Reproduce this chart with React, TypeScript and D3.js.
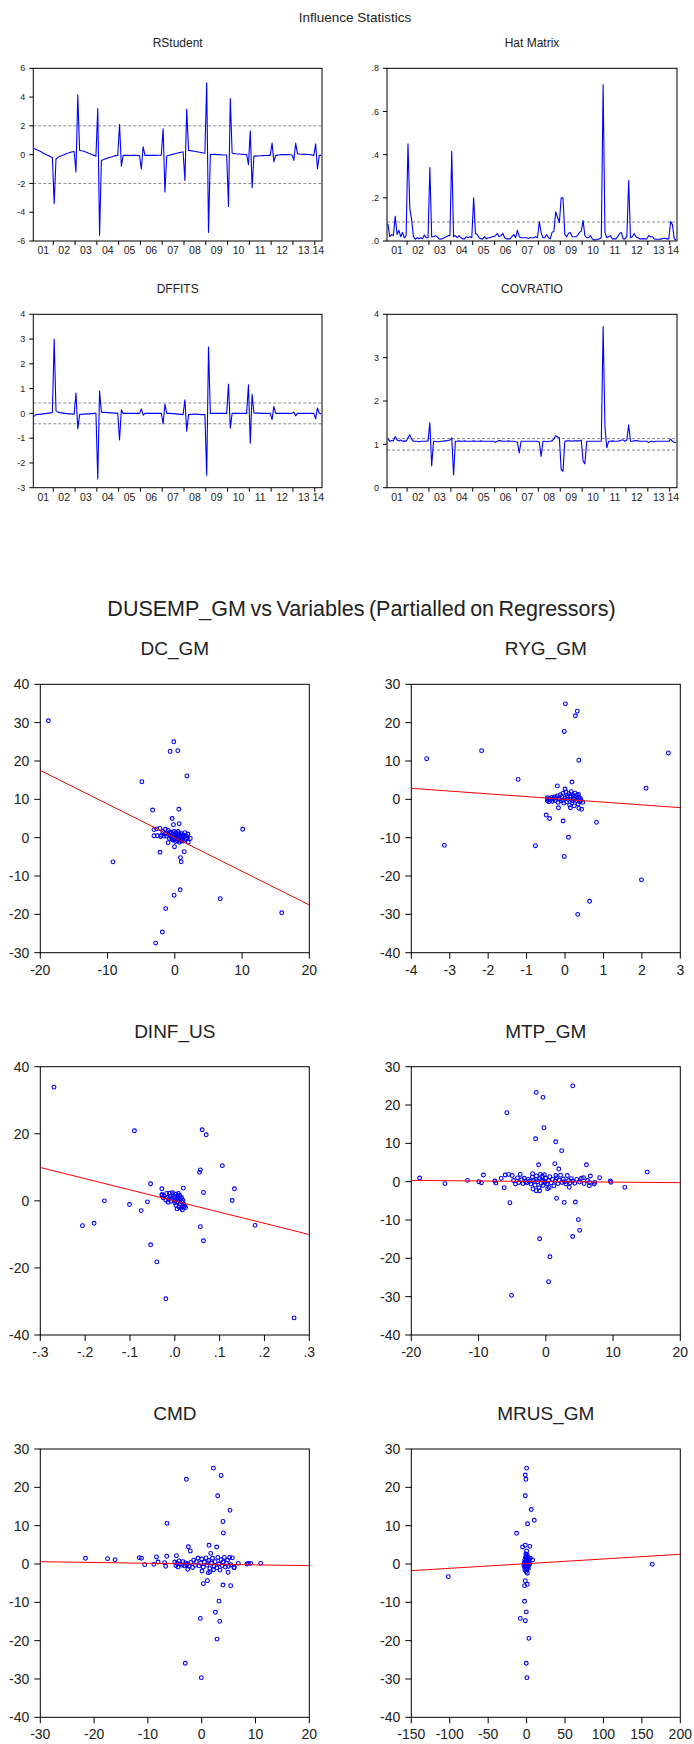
import React from "react";
import * as d3 from "d3";

const FONT = "'Liberation Sans', Arial, Helvetica, sans-serif";
const TXT = "#222";

// ---------- Influence statistics: monthly obs 2001M02 .. 2014M04 ----------
const startMonth = 2; // February 2001
const yearLabels = ["01", "02", "03", "04", "05", "06", "07", "08", "09", "10", "11", "12", "13", "14"];

const rstudent = [
  0.45, 0.35, 0.3, 0.25, 0.18, 0.1, 0.05, -0.02, -0.08, -0.14, -0.2,
  -3.4, -0.3, -0.2, -0.12, -0.08, -0.02, 0.03, 0.08, 0.12, 0.16, 0.2, 0.22,
  -1.2, 4.15, 0.3, 0.27, 0.25, 0.2, 0.15, 0.1, 0.05, 0.0, -0.05, -0.1,
  3.2, -5.6, -0.4, -0.35, -0.3, -0.26, -0.22, -0.18, -0.14, -0.1, -0.07, -0.05,
  2.1, -0.8, -0.05, -0.05, -0.05, -0.05, -0.06, -0.05, -0.05, -0.05, -0.06, -0.06,
  -1.0, 0.55, -0.05, -0.05, -0.05, -0.05, -0.05, -0.05, -0.05, -0.04, -0.04, -0.03,
  1.8, -2.6, -0.1, -0.06, -0.02, 0.02, 0.05, 0.08, 0.11, 0.14, 0.17, 0.2,
  -1.8, 3.15, 0.3, 0.28, 0.26, 0.24, 0.22, 0.19, 0.17, 0.15, 0.12, 0.1,
  5.0, -5.4, 0.0, 0.02, 0.03, 0.02, 0.0, 0.0, -0.01, -0.02, -0.02, -0.02,
  -3.6, 3.9, 0.1, 0.08, 0.06, 0.05, 0.04, 0.03, 0.02, 0.01, 0.0, -0.7,
  1.65, -2.3, -0.1, -0.1, -0.09, -0.08, -0.08, -0.07, -0.06, -0.06, -0.05, -0.05,
  0.8, -0.5, -0.05, -0.03, -0.02, 0.0, 0.0, 0.0, 0.0, 0.0, -0.01, -0.02,
  -0.4, 0.8, 0.05, 0.04, 0.03, 0.02, 0.02, 0.02, 0.01, 0.0, -0.02, -0.05,
  0.75, -1.0, -0.05, -0.05,
];

const hatMatrix = [
  0.08, 0.02, 0.03, 0.025, 0.115, 0.03, 0.05, 0.02, 0.04, 0.015, 0.025,
  0.45, 0.15, 0.1, 0.02, 0.008, 0.015, 0.01, 0.015, 0.01, 0.028, 0.015, 0.015,
  0.34, 0.02, 0.02, 0.025, 0.02, 0.01, 0.008, 0.012, 0.015, 0.02, 0.025, 0.025,
  0.415, 0.02, 0.025, 0.015, 0.025, 0.015, 0.01, 0.01, 0.02, 0.015, 0.02, 0.015,
  0.2, 0.035, 0.03, 0.015, 0.01, 0.01, 0.02, 0.01, 0.015, 0.015, 0.02, 0.02,
  0.025, 0.035, 0.02, 0.025, 0.035, 0.015, 0.01, 0.01, 0.01, 0.02, 0.03, 0.015,
  0.05, 0.02, 0.015, 0.015, 0.015, 0.015, 0.012, 0.015, 0.015, 0.015, 0.02, 0.015,
  0.09, 0.04, 0.015, 0.015, 0.03, 0.015, 0.01, 0.04, 0.045, 0.135, 0.11, 0.085,
  0.2, 0.2, 0.03, 0.02, 0.035, 0.04, 0.02, 0.02, 0.02, 0.025, 0.04, 0.045,
  0.095, 0.025, 0.015, 0.015, 0.025, 0.01, 0.005, 0.005, 0.008, 0.01, 0.015, 0.725,
  0.04, 0.015, 0.02, 0.025, 0.01, 0.01, 0.01, 0.02, 0.035, 0.04, 0.01, 0.01,
  0.02, 0.28, 0.015, 0.02, 0.035, 0.02, 0.015, 0.01, 0.01, 0.01, 0.01, 0.01,
  0.025, 0.02, 0.02, 0.01, 0.008, 0.008, 0.008, 0.01, 0.012, 0.012, 0.01, 0.01,
  0.09, 0.075, 0.01, 0.005,
];

const dffits = [
  -0.12, -0.05, -0.04, -0.04, -0.03, -0.02, -0.01, 0.0, 0.01, 0.02, 0.03,
  3.0, 0.1, 0.05, 0.03, 0.02, 0.01, 0.0, -0.01, -0.02, -0.02, -0.03, -0.03,
  0.82, -0.62, -0.05, -0.04, -0.03, -0.03, -0.02, -0.02, -0.01, -0.01, 0.0, 0.0,
  -2.65, 0.9, 0.05, 0.04, 0.04, 0.03, 0.03, 0.02, 0.02, 0.01, 0.01, 0.0,
  -1.07, 0.15, 0.0, 0.0, 0.0, 0.0, 0.0, 0.0, 0.0, 0.0, 0.0, 0.0,
  0.18, -0.07, 0.0, 0.0, 0.0, 0.0, 0.0, 0.0, 0.0, 0.0, 0.0, 0.0,
  -0.42, 0.37, 0.0, 0.0, 0.0, -0.01, -0.01, -0.02, -0.03, -0.03, -0.04, -0.05,
  0.55, -0.72, -0.05, -0.04, -0.04, -0.03, -0.03, -0.04, -0.04, -0.05, -0.05, -0.05,
  -2.5, 2.68, 0.0, 0.0, 0.0, 0.0, 0.0, 0.0, 0.0, 0.0, 0.0, 0.0,
  1.18, -0.6, 0.0, 0.0, 0.0, 0.0, 0.0, 0.0, 0.0, 0.0, 0.0, 1.15,
  -1.2, 0.77, 0.02, 0.01, 0.01, 0.01, 0.0, 0.0, 0.0, 0.0, 0.0, 0.0,
  -0.25, 0.28, 0.0, 0.0, 0.0, 0.0, 0.0, 0.0, 0.0, 0.0, 0.0, 0.0,
  0.05, -0.1, 0.0, 0.0, 0.0, 0.0, 0.0, 0.0, 0.0, 0.0, 0.0, 0.0,
  -0.22, 0.22, 0.0, -0.02,
];

const covratio = [
  1.13, 1.07, 1.09, 1.08, 1.18, 1.1, 1.08, 1.1, 1.07, 1.08, 1.07,
  1.15, 1.22, 1.12, 1.07, 1.07, 1.07, 1.06, 1.07, 1.07, 1.07, 1.07, 1.08,
  1.5, 0.5, 1.07, 1.07, 1.06, 1.06, 1.07, 1.07, 1.08, 1.08, 1.09, 1.1,
  1.15, 0.3, 1.07, 1.07, 1.08, 1.07, 1.07, 1.08, 1.07, 1.07, 1.07, 1.07,
  1.08, 1.07, 1.07, 1.07, 1.08, 1.07, 1.07, 1.07, 1.07, 1.07, 1.07, 1.07,
  1.05, 1.07, 1.09, 1.08, 1.07, 1.07, 1.07, 1.08, 1.07, 1.07, 1.07, 1.06,
  1.05, 0.8, 1.07, 1.07, 1.07, 1.07, 1.07, 1.07, 1.07, 1.07, 1.07, 1.07,
  1.05, 0.72, 1.07, 1.07, 1.06, 1.07, 1.07, 1.08, 1.12, 1.2, 1.17, 1.15,
  0.42, 0.38, 1.07, 1.08, 1.08, 1.08, 1.07, 1.08, 1.08, 1.08, 1.08, 1.1,
  0.62, 0.55, 1.07, 1.07, 1.07, 1.07, 1.07, 1.07, 1.07, 1.07, 1.07, 3.72,
  1.4, 0.92, 1.07, 1.07, 1.08, 1.07, 1.07, 1.07, 1.08, 1.1, 1.1, 1.07,
  1.1, 1.45, 1.07, 1.07, 1.08, 1.09, 1.08, 1.07, 1.07, 1.07, 1.07, 1.07,
  1.04, 1.07, 1.07, 1.06, 1.07, 1.07, 1.07, 1.07, 1.07, 1.07, 1.07, 1.07,
  1.12, 1.07, 1.05, 1.04,
];

const rstudentTicks = [-6, -4, -2, 0, 2, 4, 6];
const rstudentTickLabels = ["-6", "-4", "-2", "0", "2", "4", "6"];
const hatTicks = [0, 0.2, 0.4, 0.6, 0.8];
const hatTickLabels = [".0", ".2", ".4", ".6", ".8"];
const dffitsTicks = [-3, -2, -1, 0, 1, 2, 3, 4];
const dffitsTickLabels = ["-3", "-2", "-1", "0", "1", "2", "3", "4"];
const covTicks = [0, 1, 2, 3, 4];
const covTickLabels = ["0", "1", "2", "3", "4"];
const rstudentRefs = [2, -2];
const hatRefs = [0.088];
const dffitsRefs = [0.42, -0.42];
const covRefs = [1.132, 0.868];

// ---------- Partial regression scatter data [x, y] ----------
const dcGmPoints: [number, number][] = [
  [-18.8, 30.5], [-0.15, 25.0], [-0.7, 22.5], [0.45, 22.7], [1.8, 16.1], [-4.9, 14.6], [-3.3, 7.2], [0.6, 7.4],
  [-0.4, 5.0], [-0.2, 3.4], [0.65, 3.65], [10.1, 2.2], [-9.2, -6.3], [-2.2, -3.8], [-0.05, -2.35], [1.4, -3.65],
  [0.85, -5.2], [0.95, -6.3], [0.8, -13.6], [-0.1, -15.0], [6.75, -15.9], [15.9, -19.6], [-1.35, -18.5],
  [-1.85, -24.6], [-2.85, -27.5], [-1.0, -1.3], [2.0, -1.2], [2.3, -0.2], [1.95, 0.95],
  [-3.1, 2.1], [-3.1, 0.5], [-2.7, 2.3], [-2.6, 0.5], [-2.2, 2.4], [-2.1, 0.3], [-2.0, 0.6], [-1.8, 1.6],
  [-1.6, 0.4], [-1.4, 2.2], [-1.3, 1.2], [-1.2, 0.4], [-1.0, 1.9], [-0.9, 0.8], [-0.8, -0.2], [-0.7, 1.5],
  [-0.6, 0.5], [-0.5, 1.2], [-0.4, -0.3], [-0.3, 0.9], [-0.2, 0.2], [-0.1, 1.6], [0.0, -0.5], [0.0, 0.7],
  [0.1, -1.0], [0.2, 0.3], [0.2, 1.3], [0.3, -0.3], [0.4, 0.9], [0.4, -0.8], [0.5, 0.1], [0.5, 1.6],
  [0.6, -0.4], [0.7, 0.6], [0.7, -1.2], [0.8, 0.2], [0.9, 1.1], [0.9, -0.6], [1.0, 0.4], [1.1, -0.2],
  [1.2, 0.8], [1.3, -0.9], [1.4, 0.3], [1.5, 1.3], [1.6, -0.4], [1.7, 0.5], [1.9, -0.1], [0.1, 0.0],
  [-0.3, -0.6], [0.6, 1.0], [-1.5, 1.0], [1.0, -0.9], [0.3, 0.5], [-0.5, 0.0],
];

const rygGmPoints: [number, number][] = [
  [-3.6, 10.6], [-3.14, -12.0], [-2.17, 12.7], [-1.22, 5.2], [-0.77, -12.1], [0.01, 24.9], [0.32, 23.0],
  [0.27, 21.8], [-0.02, 17.7], [0.36, 10.2], [0.18, 4.5], [-0.2, 3.5], [0.0, 2.7], [2.69, 12.1], [2.11, 2.9],
  [0.82, -6.0], [-0.05, -5.65], [-0.49, -4.1], [-0.4, -5.0], [0.09, -9.9], [-0.02, -14.9], [1.99, -21.0],
  [0.64, -26.6], [0.33, -30.0], [-0.17, -2.2], [0.43, -2.6], [0.36, -2.35], [0.14, -2.2], [0.46, -0.8],
  [-0.46, 0.4], [-0.46, -0.4], [-0.44, 0.0], [-0.42, -0.6], [-0.4, 0.2], [-0.38, -0.2], [-0.35, 0.5],
  [-0.33, -0.5], [-0.3, 0.1], [-0.28, 0.6], [-0.25, -0.3], [-0.22, 0.4], [-0.2, 0.9], [-0.18, -0.8],
  [-0.15, 0.2], [-0.12, 1.2], [-0.1, -0.4], [-0.08, 0.7], [-0.05, 1.6], [-0.03, -1.0], [0.0, 0.3],
  [0.02, 1.9], [0.04, -0.6], [0.06, 1.0], [0.08, 0.0], [0.1, 1.5], [0.12, -1.5], [0.14, 0.6], [0.16, 2.0],
  [0.18, -0.9], [0.2, 1.2], [0.22, 0.2], [0.24, -1.7], [0.26, 1.6], [0.28, 0.8], [0.3, -0.3], [0.32, 1.1],
  [0.34, -1.2], [0.36, 0.5], [0.38, -0.6], [0.4, 0.2], [0.42, -0.3], [0.2, -0.4], [0.05, 0.5], [-0.05, -0.2],
  [0.15, 0.9], [0.25, 0.0], [0.35, 1.3], [-0.15, 0.0],
];

const dinfUsPoints: [number, number][] = [
  [-0.2695, 33.9], [-0.09, 20.9], [0.061, 21.2], [0.07, 19.7], [0.106, 10.5], [0.057, 9.25], [0.055, 8.5],
  [-0.054, 5.1], [-0.029, 3.6], [0.019, 3.8], [0.064, 2.5], [0.133, 3.6], [0.128, 0.1], [-0.157, 0.0],
  [-0.101, -1.1], [-0.061, -0.3], [-0.075, -2.9], [-0.206, -7.4], [-0.18, -6.7], [0.057, -7.7], [0.179, -7.3],
  [0.064, -11.9], [-0.054, -13.1], [-0.04, -18.2], [-0.02, -29.2], [0.266, -34.9], [-0.029, 1.8],
  [-0.028, 1.8], [-0.026, 0.9], [-0.024, 1.5], [-0.02, 0.2], [-0.018, 2.2], [-0.016, 1.0], [-0.014, 0.4],
  [-0.012, 2.3], [-0.01, 1.3], [-0.008, -0.1], [-0.006, 0.8], [-0.004, 1.8], [-0.002, 0.3], [0.0, -0.6],
  [0.0, 1.1], [0.002, 2.0], [0.003, -1.4], [0.004, 0.5], [0.005, -2.4], [0.006, 1.5], [0.007, -0.3],
  [0.008, 0.9], [0.009, -1.8], [0.01, 0.2], [0.011, 1.6], [0.012, -0.8], [0.013, 0.6], [0.014, -2.2],
  [0.015, 1.0], [0.016, -0.4], [0.017, -2.7], [0.018, 0.1], [0.019, -1.8], [0.02, -1.0], [0.022, -1.6],
  [0.024, -2.0], [-0.015, -0.4], [-0.005, 2.4], [0.001, 0.0], [0.008, 2.2],
];

const mtpGmPoints: [number, number][] = [
  [-18.76, 0.96], [-15.0, -0.5], [-11.65, 0.35], [-9.96, 0.0], [-9.57, -0.26], [-9.27, 1.74], [-7.58, 0.17],
  [-7.43, -0.35], [-6.63, 0.87], [-6.19, -1.57], [-6.04, 1.74], [-5.54, 1.9], [-5.79, 18.0], [-5.34, -5.48],
  [-5.09, -29.65], [-1.42, 23.3], [-0.42, 22.0], [-0.27, 14.1], [-1.52, 11.2], [1.47, 10.4], [2.36, 8.1],
  [-1.07, 4.4], [1.34, 4.7], [1.93, 3.3], [4.0, 25.0], [6.04, 4.4], [15.08, 2.5], [11.75, -1.48], [9.67, -0.17],
  [9.6, 0.17], [8.0, 1.04], [7.28, -0.17], [7.2, -0.6], [6.63, 1.48], [6.48, -1.04], [5.6, 1.04], [1.6, -4.35],
  [2.73, -5.4], [4.4, -5.3], [4.84, -9.9], [5.04, -12.7], [4.0, -14.3], [-0.92, -14.9], [0.62, -19.6],
  [0.42, -26.1], [-1.91, -1.9], [-1.42, -2.35], [-0.92, -2.35], [0.27, -1.83], [3.5, -1.48], [-1.96, 2.1],
  [-4.8, 0.3], [-4.5, -0.6], [-4.2, 1.0], [-4.0, -0.2], [-3.8, 1.9], [-3.6, 0.5], [-3.4, -0.5], [-3.2, 0.9],
  [-3.0, 0.0], [-2.8, -0.3], [-2.6, 0.6], [-2.4, 0.1], [-2.2, -0.6], [-2.0, 1.2], [-1.8, 0.3], [-1.6, -0.9],
  [-1.4, 1.5], [-1.2, 0.0], [-1.0, -1.6], [-0.9, 0.8], [-0.8, 1.9], [-0.7, -0.4], [-0.6, 0.4], [-0.5, 1.4],
  [-0.4, -1.0], [-0.3, 0.2], [-0.2, 1.8], [-0.1, -0.2], [0.0, 0.9], [0.2, -0.6], [0.4, 0.3], [0.6, 1.3],
  [0.8, -0.3], [1.0, 0.6], [1.2, -1.1], [1.4, 0.1], [1.6, 1.0], [1.8, -0.5], [2.0, 0.4], [2.2, 1.7],
  [2.4, -0.2], [2.6, 0.7], [2.8, 0.0], [3.0, -0.6], [3.2, 1.6], [3.4, 0.3], [3.6, -0.3], [3.8, 0.8],
  [4.0, 0.1], [4.3, -0.4], [4.6, 0.6], [5.0, -0.1], [5.3, 0.9], [5.7, -0.5], [6.2, 0.3], [6.5, -0.2],
  [-5.0, 1.6], [-1.5, 0.6], [0.5, -1.5], [1.5, 1.6],
];

const cmdPoints: [number, number][] = [
  [-21.6, 1.48], [-17.5, 1.39], [-16.1, 1.13], [-11.6, 1.65], [-11.2, 1.48], [-10.6, -0.17], [-8.9, -0.09],
  [-8.4, 1.83], [-8.1, 0.52], [-6.9, 0.35], [-6.7, -0.6], [-6.5, 2.0], [-6.45, 10.6], [-4.7, 2.17],
  [-2.85, 22.1], [-3.05, -25.9], [-0.07, -29.65], [-0.26, -14.2], [0.3, -5.13], [1.05, -4.35], [2.17, 25.0],
  [3.6, 23.1], [2.97, 17.8], [5.26, 14.0], [3.96, 11.1], [4.02, 8.1], [1.35, 4.87], [2.78, 4.43], [-2.49, 4.5],
  [-2.12, 3.4], [1.67, 2.78], [0.05, -1.83], [3.96, -5.5], [5.39, -5.65], [3.22, -9.7], [2.54, -12.6],
  [3.35, -14.96], [2.85, -19.6], [6.8, 0.17], [8.4, 0.0], [8.7, 0.17], [9.1, 0.17], [10.96, 0.17],
  [6.06, -0.87], [4.9, -2.17], [1.24, -2.26], [1.55, -2.0], [-2.6, -1.39],
  [-5.0, 0.5], [-4.8, -0.4], [-4.6, 0.2], [-4.4, -0.8], [-4.2, 0.8], [-4.0, 0.0], [-3.7, -0.3], [-3.5, 0.6],
  [-3.2, -0.5], [-3.0, 0.3], [-2.8, -0.2], [-2.6, 0.1], [-2.3, -0.6], [-2.0, 0.4], [-1.7, -0.9], [-1.5, 1.0],
  [-1.2, -0.3], [-1.0, 0.6], [-0.7, 1.5], [-0.5, -0.5], [-0.2, 0.2], [0.0, 1.3], [0.3, -0.8], [0.5, 0.5],
  [0.8, 1.6], [1.0, -0.3], [1.3, 0.9], [1.5, -1.2], [1.8, 0.2], [2.0, 1.5], [2.3, -0.6], [2.5, 0.6],
  [2.8, -1.0], [3.0, 1.7], [3.2, 0.0], [3.4, -1.6], [3.6, 1.1], [3.8, -0.4], [4.0, 0.5], [4.2, 1.7],
  [4.4, -0.8], [4.6, 0.2], [4.8, 1.0], [5.0, -0.6], [5.2, 1.7], [5.4, -0.2], [5.7, 1.6], [6.0, -1.0],
  [2.2, -1.5], [1.2, 0.3],
];

const mrusGmPoints: [number, number][] = [
  [-101.9, -3.3], [163.5, -0.09], [0.0, 25.0], [-1.7, 23.2], [-0.9, 22.1], [-1.7, 17.8], [6.1, 14.2],
  [10.0, 11.4], [1.3, 10.5], [-13.0, 8.0], [-5.2, 4.43], [-1.7, 4.9], [4.3, 4.6], [0.0, 3.4], [7.8, 1.04],
  [4.8, 1.48], [-1.7, -4.35], [-2.6, -5.65], [0.87, -5.3], [-2.6, -9.74], [-0.43, -12.5], [-8.2, -14.2],
  [-1.7, -14.8], [3.0, -19.4], [-0.43, -25.9], [0.43, -29.65],
  [-3.0, 0.2], [-2.8, -0.8], [-2.5, 1.0], [-2.2, -1.6], [-2.0, 0.5], [-1.8, -0.3], [-1.5, 1.6], [-1.2, -1.0],
  [-1.0, 0.0], [-0.8, 2.0], [-0.6, -2.0], [-0.4, 0.8], [-0.2, -0.6], [0.0, 1.3], [0.2, -1.4], [0.4, 0.4],
  [0.6, 2.4], [0.8, -0.2], [1.0, -2.4], [1.2, 1.0], [1.5, -0.8], [1.8, 0.3], [2.0, 1.8], [2.3, -1.2],
  [2.6, 0.6], [3.0, -0.4], [3.5, 1.2], [4.0, 0.0], [-3.5, -0.4], [0.0, -1.0], [1.0, 0.6], [-1.0, 2.6],
];

// fitted partial-regression lines: [slope, intercept]
const dcGmFit = [-0.877, 0.0];
const rygGmFit = [-0.72, -0.01];
const dinfUsFit = [-33.3, -0.05];
const mtpGmFit = [-0.015, 0.04];
const cmdFit = [-0.0206, -0.02];
const mrusGmFit = [0.01217, 0.09];

const yTicks30 = [-40, -30, -20, -10, 0, 10, 20, 30];
const yTicks40 = [-30, -20, -10, 0, 10, 20, 30, 40];
const yTicksDinf = [-40, -20, 0, 20, 40];
const xTicksDc = [-20, -10, 0, 10, 20];
const xTicksRyg = [-4, -3, -2, -1, 0, 1, 2, 3];
const xTicksDinf = [-0.3, -0.2, -0.1, 0, 0.1, 0.2, 0.3];
const xTicksDinfLabels = ["-.3", "-.2", "-.1", ".0", ".1", ".2", ".3"];
const xTicksMtp = [-20, -10, 0, 10, 20];
const xTicksCmd = [-30, -20, -10, 0, 10, 20];
const xTicksMrus = [-150, -100, -50, 0, 50, 100, 150, 200];

type LineProps = {
  left: number; right: number; top: number; bottom: number; title: string;
  data: number[]; yDomain: [number, number]; yTicks: number[]; yTickLabels: string[]; refs: number[];
};

function LinePanel(p: LineProps) {
  const n = p.data.length;
  const x = d3.scaleLinear().domain([0, n]).range([p.left, p.right]);
  const y = d3.scaleLinear().domain(p.yDomain).range([p.bottom, p.top]);
  const line = d3.line<number>().x((_, i) => x(i + 0.5)).y((d) => y(d));
  const jans: number[] = [];
  for (let t = 0; t < n; t++) if ((startMonth - 1 + t) % 12 === 0) jans.push(t);
  const bounds = [0, ...jans, n];
  const cx = (p.left + p.right) / 2;
  return (
    <g fontFamily={FONT} fill={TXT}>
      <text x={cx} y={p.top - 21.5} textAnchor="middle" fontSize={12}>{p.title}</text>
      {p.refs.map((r, i) => (
        <line key={"r" + i} x1={p.left} x2={p.right} y1={y(r)} y2={y(r)} stroke="#8a8a8a" strokeWidth={1} strokeDasharray="3,2" />
      ))}
      <path d={line(p.data) || ""} fill="none" stroke="#0000ff" strokeWidth={1.1} strokeLinejoin="round" />
      <rect x={p.left} y={p.top} width={p.right - p.left} height={p.bottom - p.top} fill="none" stroke="#000" strokeWidth={1} />
      {p.yTicks.map((v, i) => (
        <g key={"y" + i}>
          <line x1={p.left - 4} x2={p.left} y1={y(v)} y2={y(v)} stroke="#000" />
          <text x={p.left - 8} y={y(v)} dy="0.35em" textAnchor="end" fontSize={9}>{p.yTickLabels[i]}</text>
        </g>
      ))}
      {jans.map((t) => (
        <line key={"t" + t} x1={x(t)} x2={x(t)} y1={p.bottom} y2={p.bottom + 4} stroke="#000" />
      ))}
      {yearLabels.map((lab, i) => (
        <text key={"l" + i} x={x((bounds[i] + bounds[i + 1]) / 2)} y={p.bottom + 13.3} textAnchor="middle" fontSize={10.5}>{lab}</text>
      ))}
    </g>
  );
}

type ScatterProps = {
  left: number; right: number; top: number; bottom: number; title: string;
  points: [number, number][]; xDomain: [number, number]; yDomain: [number, number];
  xTicks: number[]; xLabels?: string[]; yTicks: number[]; fit: number[];
};

function ScatterPanel(p: ScatterProps) {
  const x = d3.scaleLinear().domain(p.xDomain).range([p.left, p.right]);
  const y = d3.scaleLinear().domain(p.yDomain).range([p.bottom, p.top]);
  const [b, a] = p.fit;
  const x0 = p.xDomain[0], x1 = p.xDomain[1];
  return (
    <g fontFamily={FONT} fill={TXT}>
      <text x={(p.left + p.right) / 2} y={p.top - 29} textAnchor="middle" fontSize={19}>{p.title}</text>
      <rect x={p.left} y={p.top} width={p.right - p.left} height={p.bottom - p.top} fill="#fff" stroke="#000" strokeWidth={1} />
      {p.points.map((d, i) => (
        <circle key={i} cx={x(d[0])} cy={y(d[1])} r={1.9} fill="none" stroke="#0000ff" strokeWidth={1.1} />
      ))}
      <line x1={x(x0)} y1={y(a + b * x0)} x2={x(x1)} y2={y(a + b * x1)} stroke="#ff0000" strokeWidth={1} />
      {p.yTicks.map((v, i) => (
        <g key={"y" + i}>
          <line x1={p.left - 6} x2={p.left} y1={y(v)} y2={y(v)} stroke="#000" />
          <text x={p.left - 11} y={y(v)} dy="0.35em" textAnchor="end" fontSize={14}>{String(v)}</text>
        </g>
      ))}
      {p.xTicks.map((v, i) => (
        <g key={"x" + i}>
          <line x1={x(v)} x2={x(v)} y1={p.bottom} y2={p.bottom + 6} stroke="#000" />
          <text x={x(v)} y={p.bottom + 22} textAnchor="middle" fontSize={14}>{p.xLabels ? p.xLabels[i] : String(v)}</text>
        </g>
      ))}
    </g>
  );
}

export default function App() {
  const L1 = 33.3, R1 = 322, L2 = 387, R2 = 677;
  const SL1 = 40.3, SR1 = 309.3, SL2 = 411.3, SR2 = 680.3;
  return (
    <div style={{ position: "absolute", left: 0, top: 0 }}>
      <svg width={694} height={1744} viewBox="0 0 694 1744" style={{ display: "block", background: "#fff" }}>
        <rect x={0} y={0} width={694} height={1744} fill="#fff" />
        <text x={355} y={21.7} textAnchor="middle" fontFamily={FONT} fontSize={13.5} fill={TXT}>Influence Statistics</text>
        <LinePanel left={L1} right={R1} top={68.3} bottom={241} title="RStudent" data={rstudent}
          yDomain={[-6, 6]} yTicks={rstudentTicks} yTickLabels={rstudentTickLabels} refs={rstudentRefs} />
        <LinePanel left={L2} right={R2} top={68.3} bottom={241} title="Hat Matrix" data={hatMatrix}
          yDomain={[0, 0.8]} yTicks={hatTicks} yTickLabels={hatTickLabels} refs={hatRefs} />
        <LinePanel left={L1} right={R1} top={314.3} bottom={487.7} title="DFFITS" data={dffits}
          yDomain={[-3, 4]} yTicks={dffitsTicks} yTickLabels={dffitsTickLabels} refs={dffitsRefs} />
        <LinePanel left={L2} right={R2} top={314.3} bottom={487.7} title="COVRATIO" data={covratio}
          yDomain={[0, 4]} yTicks={covTicks} yTickLabels={covTickLabels} refs={covRefs} />

        <text x={361.5} y={616} textAnchor="middle" fontFamily={FONT} fontSize={21.5} wordSpacing={-1.5} fill={TXT}>
          DUSEMP_GM vs Variables (Partialled on Regressors)
        </text>
        <ScatterPanel left={SL1} right={SR1} top={684.3} bottom={952.7} title="DC_GM" points={dcGmPoints}
          xDomain={[-20, 20]} yDomain={[-30, 40]} xTicks={xTicksDc} yTicks={yTicks40} fit={dcGmFit} />
        <ScatterPanel left={SL2} right={SR2} top={684.3} bottom={952.7} title="RYG_GM" points={rygGmPoints}
          xDomain={[-4, 3]} yDomain={[-40, 30]} xTicks={xTicksRyg} yTicks={yTicks30} fit={rygGmFit} />
        <ScatterPanel left={SL1} right={SR1} top={1066.7} bottom={1335} title="DINF_US" points={dinfUsPoints}
          xDomain={[-0.3, 0.3]} yDomain={[-40, 40]} xTicks={xTicksDinf} xLabels={xTicksDinfLabels} yTicks={yTicksDinf} fit={dinfUsFit} />
        <ScatterPanel left={SL2} right={SR2} top={1066.7} bottom={1335} title="MTP_GM" points={mtpGmPoints}
          xDomain={[-20, 20]} yDomain={[-40, 30]} xTicks={xTicksMtp} yTicks={yTicks30} fit={mtpGmFit} />
        <ScatterPanel left={SL1} right={SR1} top={1449} bottom={1717.3} title="CMD" points={cmdPoints}
          xDomain={[-30, 20]} yDomain={[-40, 30]} xTicks={xTicksCmd} yTicks={yTicks30} fit={cmdFit} />
        <ScatterPanel left={SL2} right={SR2} top={1449} bottom={1717.3} title="MRUS_GM" points={mrusGmPoints}
          xDomain={[-150, 200]} yDomain={[-40, 30]} xTicks={xTicksMrus} yTicks={yTicks30} fit={mrusGmFit} />
      </svg>
    </div>
  );
}
